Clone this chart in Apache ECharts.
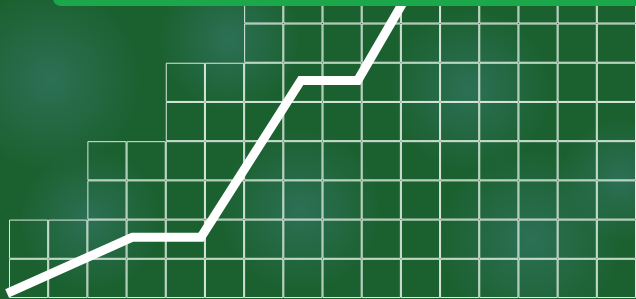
<!DOCTYPE html>
<html>
<head>
<meta charset="utf-8">
<script src="https://cdn.jsdelivr.net/npm/echarts@6/dist/echarts.min.js"></script>
<style>
  html, body { margin: 0; padding: 0; }
  #chart { width: 636px; height: 299px; }
</style>
</head>
<body>
<div id="chart"></div>
<script>
// columns of the stepped grid and how many cells tall each one is
var columns = ['1','2','3','4','5','6','7','8','9','10','11','12','13','14','15','16'];
var columnHeights = [2, 2, 4, 4, 6, 6, 7.6, 7.6, 7.6, 7.6, 7.6, 7.6, 7.6, 7.6, 7.6, 7.6];

// the white growth line
var lineX = [-0.05, 3.15, 4.9, 7.45, 8.9, 10.15];
var lineY = [0.12, 1.55, 1.55, 5.55, 5.55, 7.7];

window.addEventListener('load', function () {
    var chart = echarts.init(document.getElementById('chart'));

    // one stacked series per row of cells
    var cellSeries = [];
    for (var r = 0; r < 8; r++) {
        var rowData = [];
        for (var c = 0; c < columns.length; c++) {
            var h = columnHeights[c];
            rowData.push(h > r ? Math.min(1, h - r) : '-');
        }
        cellSeries.push({
            type: 'bar',
            stack: 'cells',
            xAxisIndex: 1,
            yAxisIndex: 0,
            barWidth: '100%',
            silent: true,
            itemStyle: {
                color: 'rgba(0,0,0,0)',
                borderColor: 'rgba(240,248,240,0.9)',
                borderWidth: 1
            },
            data: rowData
        });
    }

    var points = [];
    for (var i = 0; i < lineX.length; i++) {
        points.push([lineX[i], lineY[i]]);
    }

    // soft lighter patches of the mottled backdrop
    function patch(cx, cy, rad) {
        return {
            type: 'circle',
            z: -10,
            silent: true,
            shape: { cx: cx, cy: cy, r: rad },
            style: {
                fill: new echarts.graphic.RadialGradient(0.5, 0.5, 0.5, [
                    { offset: 0, color: 'rgba(58,125,115,0.55)' },
                    { offset: 1, color: 'rgba(58,125,115,0)' }
                ])
            }
        };
    }

    var option = {
        backgroundColor: '#1b6130',
        animation: false,
        grid: { left: 9, right: 0, top: 0, bottom: 1 },
        xAxis: [
            { type: 'value', min: 0, max: 16, show: false },
            { type: 'category', data: columns, show: false }
        ],
        yAxis: { type: 'value', min: 0, max: 7.6, show: false },
        graphic: [
            patch(50, 80, 90),
            patch(230, 40, 70),
            patch(90, 220, 70),
            patch(300, 210, 80),
            patch(470, 90, 80),
            patch(530, 240, 90),
            patch(620, 180, 60),
            {
                type: 'rect',
                z: 100,
                shape: { x: 53, y: -10, width: 600, height: 16, r: 8 },
                style: { fill: '#1aa84a' }
            }
        ],
        series: cellSeries.concat([
            {
                type: 'line',
                xAxisIndex: 0,
                yAxisIndex: 0,
                data: points,
                showSymbol: false,
                clip: true,
                lineStyle: { color: '#ffffff', width: 9, cap: 'butt', join: 'miter' },
                z: 10
            }
        ])
    };
    chart.setOption(option);
});
</script>
</body>
</html>
